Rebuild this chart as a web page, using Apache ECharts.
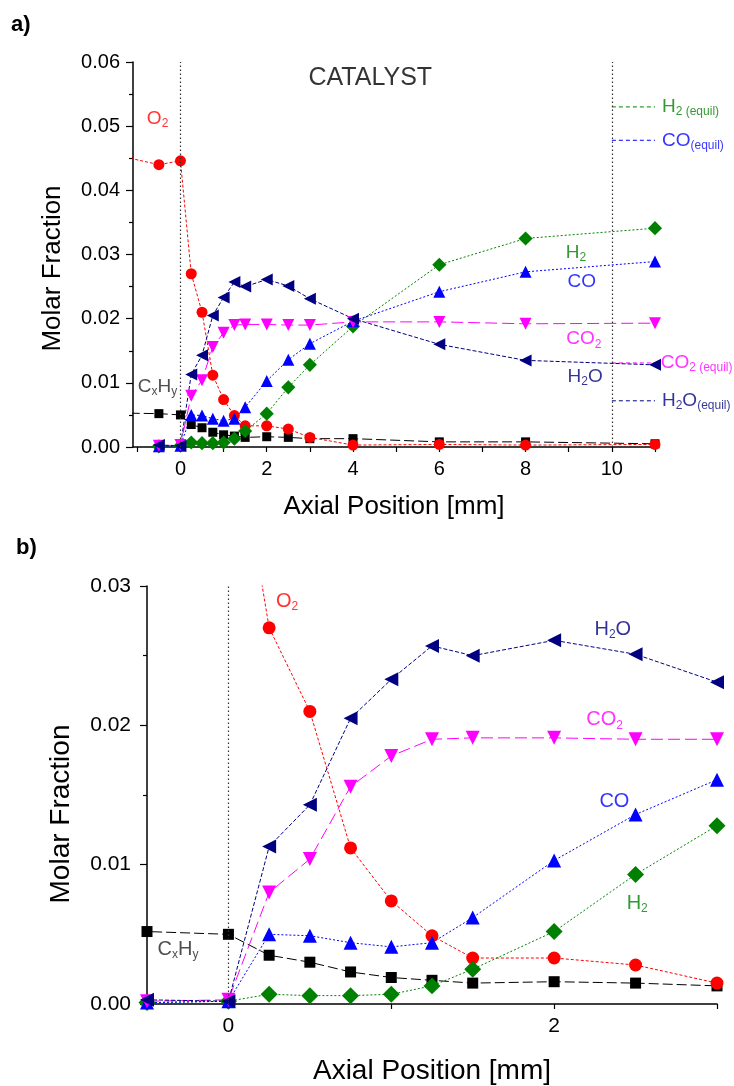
<!DOCTYPE html>
<html>
<head>
<meta charset="utf-8">
<script src="https://cdn.jsdelivr.net/npm/echarts@6/dist/echarts.min.js"></script>
<style>
html, body { margin: 0; padding: 0; background: #fff; }
#main { width: 734px; height: 1086px; }
</style>
</head>
<body>
<div id="main"></div>
<script>
// axial positions [mm] (first point is upstream, only shown as the incoming line)
var positions = [-1.5, -0.5, 0, 0.25, 0.5, 0.75, 1, 1.25, 1.5, 2, 2.5, 3, 4, 6, 8, 11]
var o2 = [0.0455, 0.0440, 0.0446, 0.0270, 0.0210, 0.0112, 0.0074, 0.0049, 0.0033, 0.0033, 0.0028, 0.0015, 0.0003, 0.0004, 0.0003, 0.0004]
var h2o = [null, 0.0003, 0.0002, 0.0113, 0.0143, 0.0205, 0.0233, 0.0257, 0.0250, 0.0261, 0.0251, 0.0231, 0.0200, 0.0160, 0.0135, 0.0128]
var co2 = [null, 0.0002, 0.0003, 0.0080, 0.0104, 0.0156, 0.0178, 0.0190, 0.0191, 0.0191, 0.0190, 0.0190, 0.0195, 0.0195, 0.0192, 0.0193]
var co = [null, 0.0001, 0.0002, 0.0050, 0.0049, 0.0044, 0.0041, 0.0044, 0.0062, 0.0103, 0.0136, 0.0161, 0.0196, 0.0242, 0.0273, 0.0289]
var h2 = [null, 0.0001, 0.0002, 0.0007, 0.0006, 0.0006, 0.0007, 0.0013, 0.0025, 0.0052, 0.0093, 0.0128, 0.0188, 0.0284, 0.0325, 0.0341]
var cxhy = [0.0053, 0.0052, 0.0050, 0.0035, 0.0030, 0.0023, 0.0019, 0.0017, 0.0015, 0.0016, 0.0015, 0.0013, 0.0013, 0.0008, 0.0008, 0.0005]

// equilibrium values drawn after the catalyst end
var equilX = [10, 11]
var h2Equil = 0.053
var coEquil = 0.0478
var co2Equil = 0.0131
var h2oEquil = 0.0072

// catalyst front / back face
var catalystTop = [0, 10]
var catalystBottom = [0]

// ticks
var topXLabels = [0, 2, 4, 6, 8, 10]
var topXTicks = [-1, 0, 1, 2, 3, 4, 5, 6, 7, 8, 9, 10, 11]
var bottomXLabels = [0, 2]
var bottomXTicks = [0, 1, 2, 3]

var FONT = 'Liberation Sans, Arial, sans-serif'

var myChart = echarts.init(document.getElementById('main'))

function pairs (values) {
  var out = []
  for (var i = 0; i < positions.length; i++) {
    if (values[i] !== null) out.push([positions[i], values[i]])
  }
  return out
}

function species (values, color, symbol, rotate, size, dash, grid) {
  return {
    type: 'line',
    xAxisIndex: grid,
    yAxisIndex: grid,
    data: pairs(values),
    symbol: symbol,
    symbolSize: size,
    symbolRotate: rotate,
    clip: true,
    itemStyle: { color: color },
    lineStyle: { color: color, width: 1, type: dash },
    z: 3
  }
}

function richFor (color, big, small) {
  return {
    b: { fontSize: big, color: color, fontFamily: FONT },
    s: { fontSize: small, color: color, fontFamily: FONT, padding: [Math.round(big * 0.55), 0, 0, 0] }
  }
}

// text annotation at a data position
function note (grid, x, y, text, color, align, big) {
  big = big || 19
  return {
    type: 'scatter',
    xAxisIndex: grid,
    yAxisIndex: grid,
    data: [[x, y]],
    symbolSize: 1,
    clip: false,
    silent: true,
    itemStyle: { color: 'rgba(0,0,0,0)' },
    label: {
      show: true,
      position: align === 'left' ? 'right' : 'inside',
      distance: 0,
      formatter: text,
      rich: richFor(color, big, Math.round(big * 0.62))
    },
    z: 5
  }
}

function equilLine (value, color) {
  return {
    type: 'line',
    xAxisIndex: 0,
    yAxisIndex: 0,
    data: [[equilX[0], value], [equilX[1], value]],
    symbol: 'none',
    lineStyle: { color: color, width: 1, type: [4, 3] },
    z: 2
  }
}

function catalystMarks (grid, bounds) {
  return {
    type: 'line',
    xAxisIndex: grid,
    yAxisIndex: grid,
    data: [],
    markLine: {
      silent: true,
      symbol: ['none', 'none'],
      label: { show: false },
      lineStyle: { color: '#333', width: 1.2, type: [1.5, 2.5] },
      data: bounds.map(function (b) { return { xAxis: b } })
    }
  }
}

var RED = '#ff0000'
var NAVY = '#000080'
var MAGENTA = '#ff00ff'
var BLUE = '#0000ff'
var GREEN = '#008000'
var BLACK = '#000000'

function yAxis (grid, max, gap, pad) {
  return {
    type: 'value',
    gridIndex: grid,
    min: 0,
    max: max,
    interval: 0.01,
    name: 'Molar Fraction',
    nameLocation: 'middle',
    nameGap: gap,
    nameTextStyle: { fontFamily: FONT, fontSize: grid === 0 ? 26 : 28, color: '#000', padding: [0, pad, 0, 0] },
    axisLine: { onZero: false, lineStyle: { color: '#000', width: 1.5 } },
    axisTick: { show: true, inside: false, length: 7, lineStyle: { color: '#000', width: 1.2 } },
    minorTick: { show: true, splitNumber: 2, length: 4, lineStyle: { color: '#000', width: 1.2 } },
    splitLine: { show: false },
    axisLabel: {
      margin: grid === 0 ? 13 : 16,
      fontFamily: FONT,
      fontSize: grid === 0 ? 20 : 21,
      color: '#000',
      formatter: function (v) { return v.toFixed(2) }
    }
  }
}

function xAxis (grid, min, max, labels, ticks, gap) {
  return {
    type: 'value',
    gridIndex: grid,
    min: min,
    max: max,
    name: 'Axial Position [mm]',
    nameLocation: 'middle',
    nameGap: gap,
    nameTextStyle: { fontFamily: FONT, fontSize: grid === 0 ? 26 : 28, color: '#000' },
    axisLine: { onZero: false, lineStyle: { color: '#000', width: 1.5 } },
    axisTick: { show: true, inside: false, length: 5, customValues: ticks, lineStyle: { color: '#000', width: 1.2 } },
    splitLine: { show: false },
    axisLabel: {
      margin: 12,
      fontFamily: FONT,
      fontSize: grid === 0 ? 20 : 21,
      color: '#000',
      customValues: labels
    }
  }
}

var series = [
  catalystMarks(0, catalystTop),
  catalystMarks(1, catalystBottom),
  equilLine(h2Equil, GREEN),
  equilLine(coEquil, BLUE),
  equilLine(co2Equil, MAGENTA),
  equilLine(h2oEquil, NAVY)
]

// top panel (a) and zoomed panel (b)
var sizes = [
  { circle: 11, rect: 9, tri: 12, dia: 10 },
  { circle: 13, rect: 11, tri: 14, dia: 12 }
]
for (var g = 0; g < 2; g++) {
  var s = sizes[g]
  series.push(
    species(cxhy, BLACK, 'rect', 0, s.rect, [10, 4], g),
    species(o2, RED, 'circle', 0, s.circle, [3, 2], g),
    species(h2, GREEN, 'rect', 45, s.dia, [2, 2], g),
    species(co, BLUE, 'triangle', 0, s.tri, [2, 2], g),
    species(co2, MAGENTA, 'triangle', 180, s.tri, [12, 5], g),
    species(h2o, NAVY, 'triangle', 90, s.tri, [4, 2], g)
  )
}

series.push(
  note(0, 4.4, 0.0575, '{b|CATALYST}', '#000', 'center', 25),
  note(0, -0.53, 0.0512, '{b|O}{s|2}', RED, 'center'),
  note(0, -0.53, 0.0094, '{b|C}{s|x}{b|H}{s|y}', '#222', 'center'),
  note(0, 9.17, 0.0303, '{b|H}{s|2}', GREEN, 'center'),
  note(0, 9.3, 0.0257, '{b|CO}', BLUE, 'center'),
  note(0, 9.35, 0.0168, '{b|CO}{s|2}', MAGENTA, 'center'),
  note(0, 9.38, 0.0110, '{b|H}{s|2}{b|O}', NAVY, 'center'),
  note(0, 11.15, h2Equil, '{b|H}{s|2 (equil)}', GREEN, 'left'),
  note(0, 11.15, coEquil, '{b|CO}{s|(equil)}', BLUE, 'left'),
  note(0, 11.12, co2Equil, '{b|CO}{s|2 (equil)}', MAGENTA, 'left'),
  note(0, 11.15, h2oEquil, '{b|H}{s|2}{b|O}{s|(equil)}', NAVY, 'left'),
  note(1, 0.36, 0.0289, '{b|O}{s|2}', RED, 'center', 20),
  note(1, 2.36, 0.0269, '{b|H}{s|2}{b|O}', NAVY, 'center', 20),
  note(1, 2.31, 0.0204, '{b|CO}{s|2}', MAGENTA, 'center', 20),
  note(1, 2.37, 0.0145, '{b|CO}', BLUE, 'center', 20),
  note(1, 2.51, 0.0072, '{b|H}{s|2}', GREEN, 'center', 20),
  note(1, -0.31, 0.0039, '{b|C}{s|x}{b|H}{s|y}', '#222', 'center', 20)
)

var option = {
  animation: false,
  backgroundColor: '#fff',
  textStyle: { fontFamily: FONT },
  grid: [
    { left: 133, right: 79, top: 62, height: 385 },
    { left: 147, right: 17, top: 586, height: 420 }
  ],
  xAxis: [
    xAxis(0, -1.1, 11, topXLabels, topXTicks, 47),
    xAxis(1, -0.5, 3, bottomXLabels, bottomXTicks, 53)
  ],
  yAxis: [
    yAxis(0, 0.06, 67, 28),
    yAxis(1, 0.03, 72, 38)
  ],
  graphic: [
    { type: 'text', left: 11, top: 14, style: { text: 'a)', fontFamily: FONT, fontSize: 22, fontWeight: 'bold', fill: '#000' } },
    { type: 'text', left: 16, top: 537, style: { text: 'b)', fontFamily: FONT, fontSize: 22, fontWeight: 'bold', fill: '#000' } }
  ],
  series: series
}

myChart.setOption(option, true)
</script>
</body>
</html>
